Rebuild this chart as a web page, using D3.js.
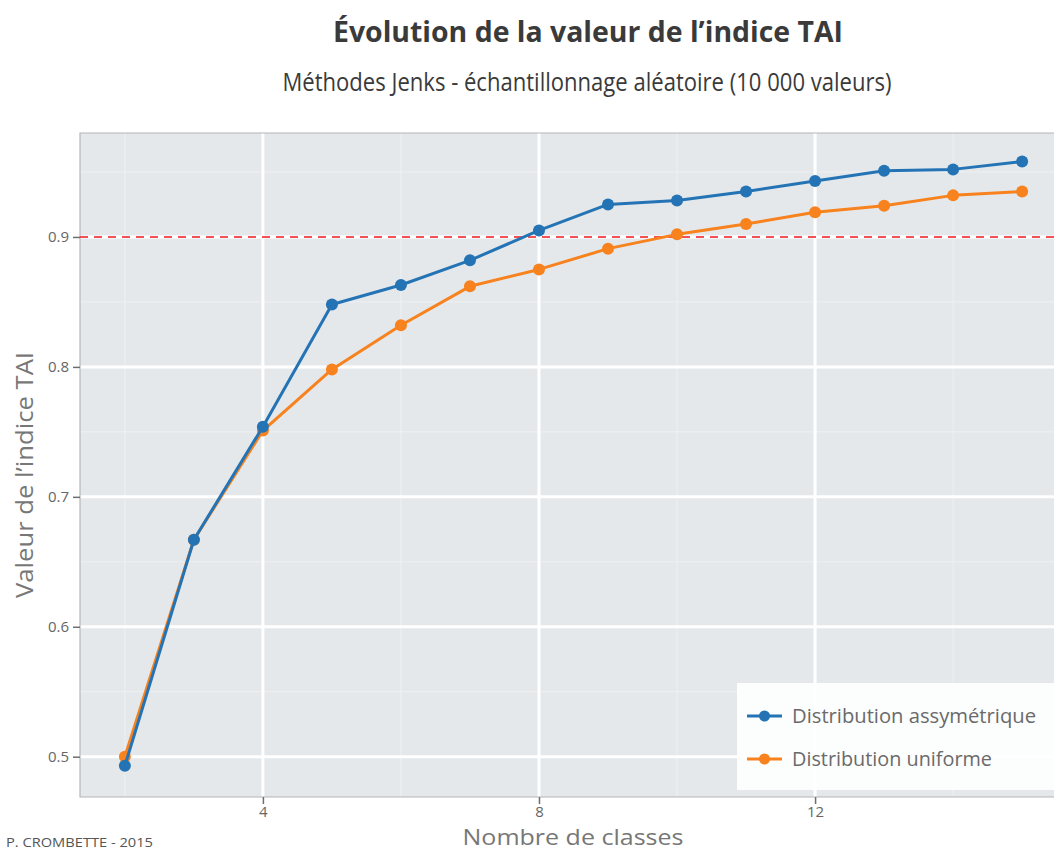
<!DOCTYPE html>
<html>
<head>
<meta charset="utf-8">
<script src="https://cdn.jsdelivr.net/npm/d3@7"></script>
<style>
  html, body { margin: 0; padding: 0; background: #fff; }
  svg { display: block; font-family: "Open Sans", "Noto Sans", sans-serif; }
</style>
</head>
<body>
<svg id="chart" width="1054" height="852"></svg>
<script>
// Nombre de classes (Jenks) et valeurs de l'indice TAI
const classes = [2, 3, 4, 5, 6, 7, 8, 9, 10, 11, 12, 13, 14, 15];
const taiAsymetrique = [0.493, 0.667, 0.754, 0.848, 0.863, 0.882, 0.905, 0.925, 0.928, 0.935, 0.943, 0.951, 0.952, 0.958];
const taiUniforme    = [0.500, 0.667, 0.751, 0.798, 0.832, 0.862, 0.875, 0.891, 0.902, 0.910, 0.919, 0.924, 0.932, 0.935];
const seriesNames = ["Distribution assymétrique", "Distribution uniforme"];
const seriesColors = ["#2474b5", "#f7821e"];
const xTicks = [4, 8, 12];
const yTicks = [0.5, 0.6, 0.7, 0.8, 0.9];
const seuil = 0.9;

const svg = d3.select("#chart");
const panel = { left: 80, top: 133, right: 1067, bottom: 797 };

const x = d3.scaleLinear().domain([1.35, 15.65]).range([panel.left, panel.right]);
const y = d3.scaleLinear().domain([0.469, 0.98]).range([panel.bottom, panel.top]);

// Panel background
svg.append("rect")
  .attr("x", panel.left).attr("y", panel.top)
  .attr("width", panel.right - panel.left).attr("height", panel.bottom - panel.top)
  .attr("fill", "#e5e8eb");

// Minor grid
const xMinor = [2, 6, 10, 14];
const yMinor = [0.55, 0.65, 0.75, 0.85, 0.95];
const grid = svg.append("g");
grid.selectAll(".xm").data(xMinor).join("line")
  .attr("x1", d => x(d)).attr("x2", d => x(d))
  .attr("y1", panel.top).attr("y2", panel.bottom)
  .attr("stroke", "#eef0f2").attr("stroke-width", 1);
grid.selectAll(".ym").data(yMinor).join("line")
  .attr("y1", d => y(d)).attr("y2", d => y(d))
  .attr("x1", panel.left).attr("x2", panel.right)
  .attr("stroke", "#eef0f2").attr("stroke-width", 1);

// Major grid
grid.selectAll(".xg").data(xTicks).join("line")
  .attr("x1", d => x(d)).attr("x2", d => x(d))
  .attr("y1", panel.top).attr("y2", panel.bottom)
  .attr("stroke", "#fff").attr("stroke-width", 3);
grid.selectAll(".yg").data(yTicks).join("line")
  .attr("y1", d => y(d)).attr("y2", d => y(d))
  .attr("x1", panel.left).attr("x2", panel.right)
  .attr("stroke", "#fff").attr("stroke-width", 3);

// Panel border
svg.append("path")
  .attr("d", `M${panel.right},${panel.top}H${panel.left}V${panel.bottom}H${panel.right}`)
  .attr("fill", "none").attr("stroke", "#b4b6b8").attr("stroke-width", 1.2);

// Axes
const yAxis = d3.axisLeft(y).tickValues(yTicks).tickFormat(d3.format(".1f")).tickSize(7).tickPadding(4);
const xAxis = d3.axisBottom(x).tickValues(xTicks).tickFormat(d3.format("d")).tickSize(7).tickPadding(2);

const gy = svg.append("g").attr("transform", `translate(${panel.left},0)`).call(yAxis);
const gx = svg.append("g").attr("transform", `translate(0,${panel.bottom})`).call(xAxis);
[gx, gy].forEach(g => {
  g.select(".domain").remove();
  g.selectAll(".tick line").attr("stroke", "#6e6e6e").attr("stroke-width", 1.5);
  g.selectAll(".tick text").attr("fill", "#666").style("font-size", "15px")
    .style("font-family", "'Open Sans', sans-serif");
});

// Threshold line
svg.append("line")
  .attr("x1", panel.left).attr("x2", panel.right)
  .attr("y1", y(seuil)).attr("y2", y(seuil))
  .attr("stroke", "#f0191e").attr("stroke-width", 1.6)
  .attr("stroke-dasharray", "8,6");

// Series
const series = [taiAsymetrique, taiUniforme];
const line = d3.line().x(d => x(d[0])).y(d => y(d[1]));
// uniforme drawn first so the asymétrique points sit on top at low values
[1, 0].forEach(i => {
  const pts = classes.map((c, k) => [c, series[i][k]]);
  const g = svg.append("g");
  g.append("path").datum(pts)
    .attr("d", line).attr("fill", "none")
    .attr("stroke", seriesColors[i]).attr("stroke-width", 3).attr("stroke-linejoin", "round");
  g.selectAll("circle").data(pts).join("circle")
    .attr("cx", d => x(d[0])).attr("cy", d => y(d[1])).attr("r", 6)
    .attr("fill", seriesColors[i]);
});

// Legend
const legend = svg.append("g");
legend.append("rect")
  .attr("x", 737).attr("y", 683).attr("width", 330).attr("height", 107)
  .attr("fill", "#ffffff").attr("fill-opacity", 0.88);
const legendWidths = [244, 200];
seriesNames.forEach((name, i) => {
  const ly = 716 + i * 43;
  legend.append("line")
    .attr("x1", 747).attr("x2", 782).attr("y1", ly).attr("y2", ly)
    .attr("stroke", seriesColors[i]).attr("stroke-width", 3);
  legend.append("circle").attr("cx", 764.5).attr("cy", ly).attr("r", 5.5).attr("fill", seriesColors[i]);
  legend.append("text")
    .attr("x", 792).attr("y", ly + 7)
    .attr("fill", "#6a6a6a").style("font-size", "20px")
    .attr("textLength", legendWidths[i]).attr("lengthAdjust", "spacingAndGlyphs")
    .text(name);
});

// Titles
svg.append("text")
  .attr("x", 588).attr("y", 42).attr("text-anchor", "middle")
  .attr("fill", "#3a3a3a").style("font-size", "28px").style("font-weight", "700")
  .attr("textLength", 510).attr("lengthAdjust", "spacingAndGlyphs")
  .text("Évolution de la valeur de l’indice TAI");
svg.append("text")
  .attr("x", 587).attr("y", 91).attr("text-anchor", "middle")
  .attr("fill", "#3a3a3a").style("font-size", "25px")
  .attr("textLength", 609).attr("lengthAdjust", "spacingAndGlyphs")
  .text("Méthodes Jenks - échantillonnage aléatoire (10 000 valeurs)");

// Axis titles
svg.append("text")
  .attr("x", 573).attr("y", 845).attr("text-anchor", "middle")
  .attr("fill", "#777").style("font-size", "22px")
  .attr("textLength", 221).attr("lengthAdjust", "spacingAndGlyphs")
  .text("Nombre de classes");
svg.append("text")
  .attr("transform", "translate(33,475) rotate(-90)").attr("text-anchor", "middle")
  .attr("fill", "#777").style("font-size", "24px")
  .attr("textLength", 246).attr("lengthAdjust", "spacingAndGlyphs")
  .text("Valeur de l’indice TAI");

// Credit
svg.append("text")
  .attr("x", 6).attr("y", 847)
  .attr("fill", "#555").style("font-size", "13px")
  .attr("textLength", 147).attr("lengthAdjust", "spacingAndGlyphs")
  .text("P. CROMBETTE - 2015");
</script>
</body>
</html>
